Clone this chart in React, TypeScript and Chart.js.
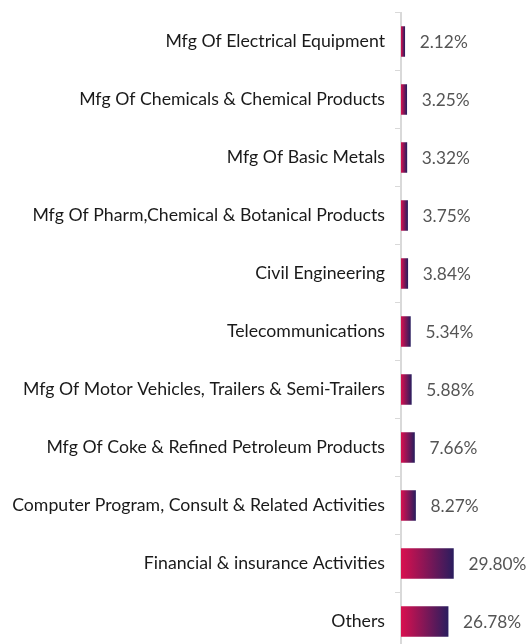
import React, { useEffect, useRef } from "react";
import { Chart, registerables } from "chart.js";

Chart.register(...registerables);

const categories = [
  "Mfg Of Electrical Equipment",
  "Mfg Of Chemicals & Chemical Products",
  "Mfg Of Basic Metals",
  "Mfg Of Pharm,Chemical & Botanical Products",
  "Civil Engineering",
  "Telecommunications",
  "Mfg Of Motor Vehicles, Trailers & Semi-Trailers",
  "Mfg Of Coke & Refined Petroleum Products",
  "Computer Program, Consult & Related Activities",
  "Financial & insurance Activities",
  "Others",
];
const values = [2.12, 3.25, 3.32, 3.75, 3.84, 5.34, 5.88, 7.66, 8.27, 29.8, 26.78];
const valueLabels = ["2.12%", "3.25%", "3.32%", "3.75%", "3.84%", "5.34%", "5.88%", "7.66%", "8.27%", "29.80%", "26.78%"];

const FONT = "Lato, 'Noto Sans', sans-serif";

const valueLabelPlugin = {
  id: "valueLabels",
  afterDatasetsDraw(chart: any) {
    const ctx = chart.ctx;
    const meta = chart.getDatasetMeta(0);
    ctx.save();
    ctx.font = `17.3px ${FONT}`;
    ctx.fillStyle = "#555555";
    ctx.textAlign = "left";
    ctx.textBaseline = "middle";
    meta.data.forEach((bar: any, i: number) => {
      ctx.fillText(valueLabels[i], bar.x + 15, bar.y + 1);
    });
    ctx.restore();
  },
};

export default function App() {
  const ref = useRef<HTMLCanvasElement>(null);
  useEffect(() => {
    if (!ref.current) return;
    const chart = new Chart(ref.current, {
      type: "bar",
      data: {
        labels: categories,
        datasets: [
          {
            data: values,
            barThickness: 30,
            borderWidth: 0,
            backgroundColor: (c: any) => {
              const ch = c.chart;
              const xs = ch.scales && ch.scales.x;
              if (!ch.chartArea || !xs || c.dataIndex === undefined) return "#8a1657";
              const x0 = xs.getPixelForValue(0);
              const x1 = xs.getPixelForValue(values[c.dataIndex]);
              if (!isFinite(x0) || !isFinite(x1) || x1 - x0 < 0.5) return "#8a1657";
              const g = ch.ctx.createLinearGradient(x0, 0, x1, 0);
              g.addColorStop(0, "#d9104f");
              g.addColorStop(1, "#2b1d5e");
              return g;
            },
          },
        ],
      },
      options: {
        indexAxis: "y",
        animation: false,
        responsive: true,
        maintainAspectRatio: false,
        layout: { padding: { top: 4.5, bottom: 3.5, left: 4, right: 8 } },
        plugins: { legend: { display: false }, tooltip: { enabled: false } },
        scales: {
          x: {
            display: false,
            min: 0,
            max: 68.8,
          },
          y: {
            afterFit: (s: any) => {
              s.width = 389;
              s.paddingTop = 0;
              s.paddingBottom = 0;
            },
            grid: {
              offset: true,
              drawOnChartArea: false,
              tickLength: 6,
              color: "#d9d9d9",
            },
            border: { display: true, color: "#d9d9d9", width: 2 },
            ticks: {
              color: "#1a1a1a",
              font: { family: FONT, size: 17.7 },
              padding: 10,
            },
          },
        },
      },
      plugins: [valueLabelPlugin],
    } as any);
    return () => chart.destroy();
  }, []);
  return (
    <div style={{ position: "fixed", top: 8, left: 8, width: 522, height: 646 }}>
      <canvas ref={ref} />
    </div>
  );
}
